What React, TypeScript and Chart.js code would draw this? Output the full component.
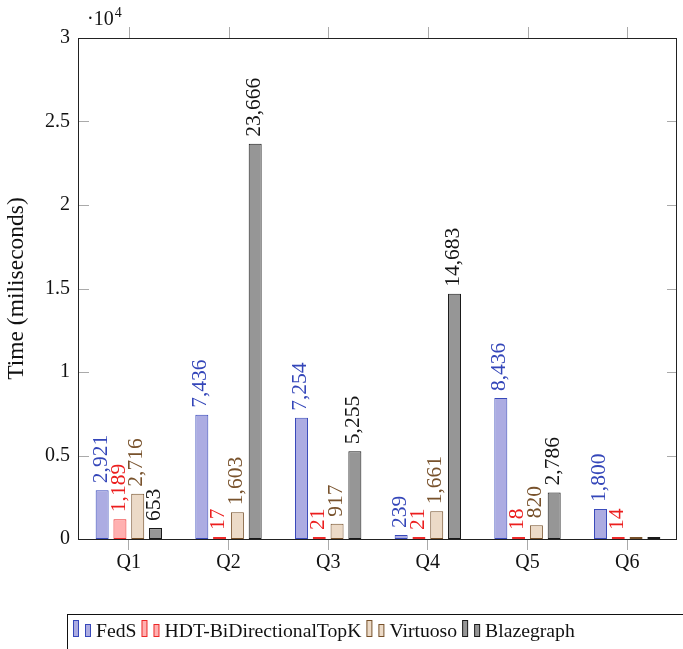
import React, { useEffect, useRef } from "react";
import { Chart, registerables } from "chart.js";

Chart.register(...registerables);

const categories = ["Q1", "Q2", "Q3", "Q4", "Q5", "Q6"];
const seriesNames = ["FedS", "HDT-BiDirectionalTopK", "Virtuoso", "Blazegraph"];
const fedS = [2921, 7436, 7254, 239, 8436, 1800];
const hdt = [1189, 17, 21, 21, 18, 14];
const virtuoso = [2716, 1603, 917, 1661, 820, 0];
const blazegraph = [653, 23666, 5255, 14683, 2786, 0];
const yMin = 0;
const yMax = 30000;
const yStep = 5000;
const yExponent = 4;
const yTitle = "Time (miliseconds)";

const fills = ["rgb(172,172,226)", "rgb(255,176,176)", "rgb(236,218,199)", "rgb(150,150,150)"];
const borders = ["rgb(55,72,186)", "rgb(236,40,40)", "rgb(118,80,42)", "rgb(25,25,25)"];
const labelColors = ["rgb(52,70,185)", "rgb(236,30,30)", "rgb(120,82,44)", "rgb(20,20,20)"];

const FONT = '"Liberation Serif", "Times New Roman", serif';

const decorPlugin = {
  id: "decor",
  afterDatasetsDraw(chart: any) {
    const ctx = chart.ctx;
    const area = chart.chartArea;
    const xs = chart.scales.x;
    const ys = chart.scales.y;
    ctx.save();
    // inside y ticks on left and right
    ctx.strokeStyle = "#aaa";
    ctx.lineWidth = 1;
    ys.ticks.forEach((t: any) => {
      const y = Math.round(ys.getPixelForValue(t.value)) + 0.5;
      ctx.beginPath();
      ctx.moveTo(area.left, y);
      ctx.lineTo(area.left + 10, y);
      ctx.moveTo(area.right, y);
      ctx.lineTo(area.right - 10, y);
      ctx.stroke();
    });
    // outward x ticks on top
    categories.forEach((_c, i) => {
      const x = Math.round(xs.getPixelForValue(i)) + 0.5;
      ctx.beginPath();
      ctx.moveTo(x, area.top);
      ctx.lineTo(x, area.top - 11);
      ctx.stroke();
    });
    // axis frame
    ctx.strokeStyle = "#222";
    ctx.strokeRect(Math.round(area.left) - 0.5, Math.round(area.top) + 0.5,
      Math.round(area.right - area.left), Math.round(area.bottom - area.top));
    // value labels
    ctx.font = `21.5px ${FONT}`;
    ctx.textAlign = "left";
    ctx.textBaseline = "middle";
    chart.data.datasets.forEach((ds: any, di: number) => {
      const meta = chart.getDatasetMeta(di);
      meta.data.forEach((bar: any, i: number) => {
        const v = ds.data[i];
        if (!v) return;
        ctx.save();
        ctx.translate(bar.x - 1, bar.y - 7);
        ctx.rotate(-Math.PI / 2);
        ctx.fillStyle = labelColors[di];
        ctx.fillText(v.toLocaleString("en-US"), 0, 0);
        ctx.restore();
      });
    });
    ctx.restore();
  },
  afterDraw(chart: any) {
    const ctx = chart.ctx;
    const area = chart.chartArea;
    ctx.save();
    // exponent marker
    ctx.fillStyle = "#111";
    ctx.textBaseline = "alphabetic";
    ctx.textAlign = "left";
    ctx.font = `20px ${FONT}`;
    ctx.fillText("·10", area.left + 8, 25);
    const w = ctx.measureText("·10").width;
    ctx.font = `14px ${FONT}`;
    ctx.fillText(String(yExponent), area.left + 8 + w + 1, 17);
    // legend
    ctx.strokeStyle = "#111";
    ctx.lineWidth = 1;
    ctx.strokeRect(67.5, 614.5, 700, 100);
    ctx.font = `19.7px ${FONT}`;
    let x = 73;
    const bottom = 636;
    chart.data.datasets.forEach((ds: any, di: number) => {
      ctx.fillStyle = fills[di];
      ctx.strokeStyle = borders[di];
      ctx.fillRect(x + 0.5, bottom - 16 + 0.5, 5, 16);
      ctx.strokeRect(x + 0.5, bottom - 16 + 0.5, 5, 16);
      ctx.fillRect(x + 12.5, bottom - 12 + 0.5, 5, 12);
      ctx.strokeRect(x + 12.5, bottom - 12 + 0.5, 5, 12);
      ctx.fillStyle = "#111";
      ctx.fillText(ds.label, x + 23, bottom + 1);
      x = x + 23 + ctx.measureText(ds.label).width + 5;
    });
    ctx.restore();
  },
};

export default function App() {
  const ref = useRef<HTMLCanvasElement | null>(null);
  useEffect(() => {
    document.body.style.margin = "0";
    const canvas = ref.current;
    if (!canvas) return;
    const series = [fedS, hdt, virtuoso, blazegraph];
    const chart = new Chart(canvas, {
      type: "bar",
      data: {
        labels: categories,
        datasets: series.map((d, i) => ({
          label: seriesNames[i],
          data: d,
          backgroundColor: fills[i],
          borderColor: borders[i],
          borderWidth: 1,
          borderSkipped: false,
          minBarLength: 2,
          categoryPercentage: 0.714,
          barPercentage: 0.73,
        })),
      },
      options: {
        responsive: false,
        animation: false,
        devicePixelRatio: 1,
        layout: { padding: { top: 38, right: 6, bottom: 0, left: 0 } },
        plugins: {
          legend: { display: false },
          tooltip: { enabled: false },
        },
        scales: {
          x: {
            grid: {
              display: true,
              drawOnChartArea: false,
              offset: false,
              tickLength: 11,
              color: "#aaa",
            },
            border: { display: false },
            ticks: { color: "#111", font: { family: FONT, size: 20 }, padding: 1 },
            afterFit: (s: any) => {
              s.height = 110;
            },
          },
          y: {
            min: yMin,
            max: yMax,
            grid: { display: false, drawTicks: false },
            border: { display: false },
            ticks: {
              stepSize: yStep,
              padding: 9,
              color: "#111",
              font: { family: FONT, size: 20 },
              callback: (v: any) => String(Number(v) / Math.pow(10, yExponent)),
            },
            title: {
              display: true,
              text: yTitle,
              color: "#111",
              font: { family: FONT, size: 23.5 },
              padding: { top: 3, bottom: 0 },
            },
            afterFit: (s: any) => {
              s.width = 79;
            },
          },
        },
      },
      plugins: [decorPlugin],
    });
    return () => chart.destroy();
  }, []);
  return (
    <div style={{ width: 683, height: 649 }}>
      <canvas ref={ref} width={683} height={649} style={{ display: "block" }} />
    </div>
  );
}
